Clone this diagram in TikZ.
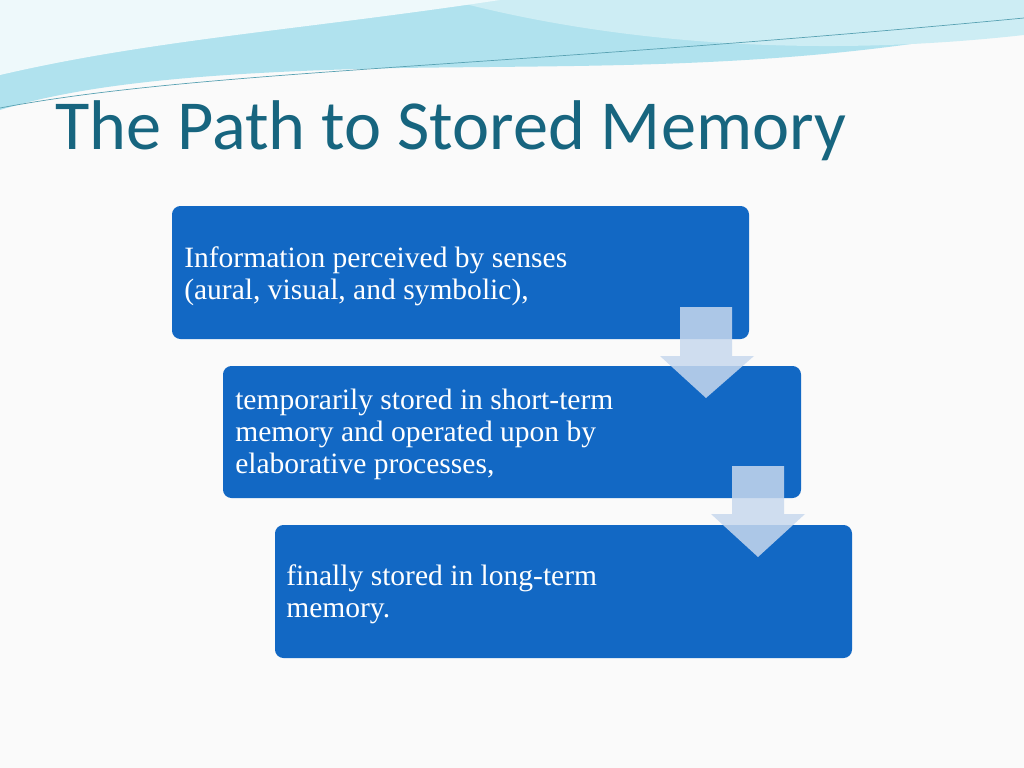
\documentclass[tikz,border=0pt]{standalone}
\usepackage{fontspec}
\setmainfont{Liberation Serif}
\newfontfamily\titlefont{Carlito}
\usetikzlibrary{positioning}
\definecolor{boxblue}{HTML}{1268C4}
\definecolor{titleteal}{HTML}{17657F}
\definecolor{wave}{HTML}{6FCBE0}
\definecolor{arrowfill}{HTML}{C8D8EE}
\tikzset{
  stagebox/.style={fill=boxblue, rounded corners=6pt},
  stagetext/.style={anchor=north west, text=white, align=left, font=\fontsize{21}{22.8}\selectfont, inner sep=0pt},
  downarrow/.style={fill=arrowfill, fill opacity=0.85}
}
\begin{document}
\begin{tikzpicture}[x=0.025cm, y=-0.025cm]
    % background
    \fill[white!96!gray] (0,0) rectangle (1024,768);
    \useasboundingbox (0,0) rectangle (1024,768);

    % top waves
    \fill[wave!55] (0,0) -- (1024,0) -- (1024,25) .. controls (800,70) and (600,65) .. (400,68) .. controls (200,72) and (80,85) .. (0,110) -- cycle;
    \fill[wave!35] (450,0) .. controls (600,40) and (800,60) .. (1024,35) -- (1024,0) -- cycle;
    \fill[white!88!wave] (0,0) -- (500,0) .. controls (300,30) and (150,40) .. (0,75) -- cycle;
    \draw[wave!80!black, line width=0.5pt] (0,108) .. controls (200,70) and (500,68) .. (1024,18);

    % title
    \node[anchor=base west, inner sep=0pt, text=titleteal, font=\titlefont\fontsize{50}{54}\selectfont] (title) at (55,150) {The Path to Stored Memory};

    % stages
    \path[stagebox] (172,206) rectangle (749,339);
    \path[stagebox] (223,366) rectangle (801,498);
    \path[stagebox] (275,525) rectangle (852,658);
    \node[stagetext] (senses) at (184,246) {Information perceived by senses\\(aural, visual, and symbolic),};
    \node[stagetext] (short) at (235,389) {temporarily stored in short-term\\memory and operated upon by\\elaborative processes,};
    \node[stagetext] (long) at (286,564) {finally stored in long-term\\memory.};

    % arrows between stages
    \path[downarrow] (680,307) -- (732,307) -- (732,356) -- (754,356) -- (706,398) -- (660,356) -- (680,356) -- cycle;
    \path[downarrow] (732,466) -- (784,466) -- (784,514) -- (805,514) -- (758,557) -- (711,514) -- (732,514) -- cycle;
\end{tikzpicture}
\end{document}
